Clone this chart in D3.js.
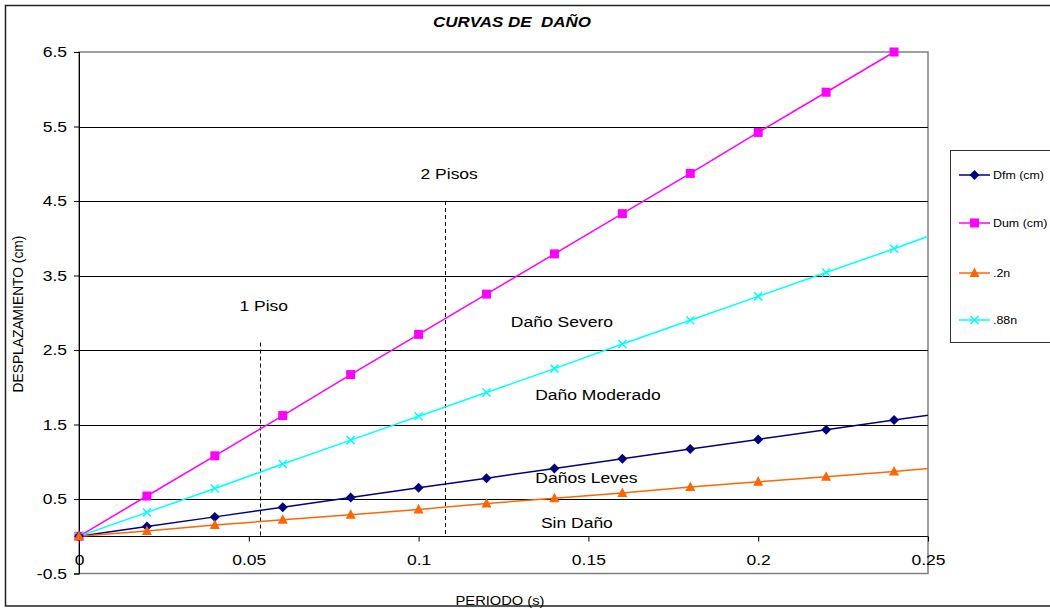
<!DOCTYPE html>
<html>
<head>
<meta charset="utf-8">
<script src="https://cdn.jsdelivr.net/npm/d3@7"></script>
<style>
  html, body { margin: 0; padding: 0; background: #fff; }
  svg { display: block; font-family: "Liberation Sans", Arial, sans-serif; }
</style>
</head>
<body>
<svg id="chart" width="1050" height="610"></svg>
<script>
// Periodo (s)
const periods = [0, 0.02, 0.04, 0.06, 0.08, 0.10, 0.12, 0.14, 0.16, 0.18, 0.20, 0.22, 0.24, 0.26];
// Desplazamientos (cm)
const dfm = [0, 0.13, 0.26, 0.39, 0.52, 0.65, 0.78, 0.91, 1.04, 1.17, 1.30, 1.43, 1.56, 1.69];
const dum = [0, 0.54, 1.08, 1.62, 2.17, 2.71, 3.25, 3.79, 4.33, 4.87, 5.42, 5.96, 6.50, 7.04];
const n20 = [0, 0.07, 0.15, 0.22, 0.29, 0.36, 0.44, 0.51, 0.58, 0.66, 0.73, 0.80, 0.87, 0.95];
const n88 = [0, 0.32, 0.64, 0.97, 1.29, 1.61, 1.93, 2.25, 2.58, 2.90, 3.22, 3.54, 3.86, 4.19];

const seriesNames = ["Dfm (cm)", "Dum (cm)", ".2n", ".88n"];
const seriesColors = ["#000080", "#FF00FF", "#FF6600", "#00FFFF"];
const seriesMarkers = ["diamond", "square", "triangle", "cross"];

const xTicks = [0, 0.05, 0.1, 0.15, 0.2, 0.25];
const xTickLabels = ["0", "0.05", "0.1", "0.15", "0.2", "0.25"];
const yTicks = [-0.5, 0.5, 1.5, 2.5, 3.5, 4.5, 5.5, 6.5];
const yTickLabels = ["-0.5", "0.5", "1.5", "2.5", "3.5", "4.5", "5.5", "6.5"];
const yGrid = [0.5, 1.5, 2.5, 3.5, 4.5, 5.5];

// Limites por numero de pisos: [periodo, desplazamiento superior]
const storyLimits = [[0.0533, 2.6], [0.1077, 4.5]];
// Rotulos de pisos: [texto, periodo, desplazamiento]
const storyLabels = [["1 Piso", 0.0544, 3.03], ["2 Pisos", 0.1090, 4.79]];

// Zonas de dano: [texto, periodo, desplazamiento]
const zoneLabels = [
  ["Daño Severo", 0.1422, 2.81],
  ["Daño Moderado", 0.1528, 1.83],
  ["Daños Leves", 0.1494, 0.72],
  ["Sin Daño", 0.1466, 0.11]
];

const svg = d3.select("#chart");
const W = 1050;
const SX = 1.13; // horizontal text stretch
const plot = { left: 79, right: 928, top: 52, bottom: 573.5 };

const x = d3.scaleLinear().domain([0, 0.25]).range([plot.left, plot.right]);
const y = d3.scaleLinear().domain([-0.5, 6.5]).range([plot.bottom, plot.top]);

function label(parent, tx, ty, str, size, anchor) {
  return parent.append("text")
    .attr("transform", `translate(${tx},${ty}) scale(${SX},1)`)
    .attr("text-anchor", anchor || "middle")
    .attr("font-size", size)
    .attr("xml:space", "preserve")
    .text(str);
}

// Outer chart frame
svg.append("rect")
  .attr("x", 5.5).attr("y", 5.5)
  .attr("width", W + 20).attr("height", 600.5)
  .attr("fill", "#fff").attr("stroke", "#222").attr("stroke-width", 1.5);

// Title
label(svg, 512, 26.5, "CURVAS DE  DAÑO", 15)
  .attr("font-weight", "bold").attr("font-style", "italic");

// Plot area border
svg.append("rect")
  .attr("x", plot.left).attr("y", plot.top)
  .attr("width", plot.right - plot.left).attr("height", plot.bottom - plot.top)
  .attr("fill", "none").attr("stroke", "#808080").attr("stroke-width", 1.5);

// Horizontal gridlines
svg.append("g").selectAll("line").data(yGrid).join("line")
  .attr("x1", plot.left).attr("x2", plot.right)
  .attr("y1", d => Math.round(y(d)) + 0.5).attr("y2", d => Math.round(y(d)) + 0.5)
  .attr("stroke", "#000").attr("stroke-width", 1);

// Y axis
const yAxis = d3.axisLeft(y)
  .tickValues(yTicks)
  .tickSize(5)
  .tickPadding(6)
  .tickFormat((d, i) => yTickLabels[i]);
const gy = svg.append("g").attr("transform", `translate(${plot.left},0)`).call(yAxis);
gy.select(".domain").attr("stroke", "#000");
gy.selectAll(".tick line").attr("stroke", "#000");
gy.selectAll("text")
  .attr("x", null)
  .attr("transform", `translate(-12,0) scale(${SX},1)`)
  .attr("font-size", 15.5).attr("fill", "#000")
  .attr("font-family", "Liberation Sans, Arial, sans-serif");

// X axis at zero displacement
const xAxis = d3.axisBottom(x)
  .tickValues(xTicks)
  .tickSize(5)
  .tickPadding(13)
  .tickFormat((d, i) => xTickLabels[i]);
const gx = svg.append("g").attr("transform", `translate(0,${Math.round(y(0)) + 0.5})`).call(xAxis);
gx.select(".domain").attr("stroke", "#000").attr("d", `M${plot.left},0H${plot.right}`);
gx.selectAll(".tick line").attr("stroke", "#000");
gx.selectAll("text")
  .attr("transform", `scale(${SX},1)`)
  .attr("font-size", 15.5).attr("fill", "#000")
  .attr("font-family", "Liberation Sans, Arial, sans-serif");

// Axis titles
svg.append("text")
  .attr("transform", `translate(23,314) rotate(-90)`)
  .attr("text-anchor", "middle")
  .attr("font-size", 13.8)
  .text("DESPLAZAMIENTO (cm)");
label(svg, 500, 605, "PERIODO (s)", 13);

// Story limit dashed lines and labels
svg.append("g").selectAll("line").data(storyLimits).join("line")
  .attr("x1", d => Math.round(x(d[0])) + 0.5).attr("x2", d => Math.round(x(d[0])) + 0.5)
  .attr("y1", d => y(d[1])).attr("y2", y(0))
  .attr("stroke", "#000").attr("stroke-width", 1)
  .attr("stroke-dasharray", "4,3");
storyLabels.forEach(d => label(svg, x(d[1]), y(d[2]), d[0], 15.5));

// Zone labels
zoneLabels.forEach(d => label(svg, x(d[1]), y(d[2]), d[0], 15.5));

// Clip for series lines
svg.append("defs").append("clipPath").attr("id", "lineClip")
  .append("rect")
  .attr("x", plot.left).attr("y", plot.top)
  .attr("width", plot.right - plot.left).attr("height", plot.bottom - plot.top);

const allSeries = [dfm, dum, n20, n88];
const line = d3.line().x(d => x(d[0])).y(d => y(d[1]));

function drawMarker(g, type, color, cx, cy) {
  if (type === "diamond") {
    g.append("path").attr("d", `M${cx},${cy - 5}L${cx + 5},${cy}L${cx},${cy + 5}L${cx - 5},${cy}Z`)
      .attr("fill", color);
  } else if (type === "square") {
    g.append("rect").attr("x", cx - 4.5).attr("y", cy - 4.5).attr("width", 9).attr("height", 9)
      .attr("fill", color);
  } else if (type === "triangle") {
    g.append("path").attr("d", `M${cx},${cy - 5.5}L${cx + 5},${cy + 4}L${cx - 5},${cy + 4}Z`)
      .attr("fill", color);
  } else {
    g.append("path").attr("d", `M${cx - 4},${cy - 4}L${cx + 4},${cy + 4}M${cx - 4},${cy + 4}L${cx + 4},${cy - 4}`)
      .attr("stroke", color).attr("stroke-width", 1.5).attr("fill", "none");
  }
}

// Series lines, clipped at the plot edges
const lineLayer = svg.append("g").attr("clip-path", "url(#lineClip)");
allSeries.forEach((vals, i) => {
  const pts = periods.map((t, j) => [t, vals[j]]);
  lineLayer.append("path")
    .datum(pts)
    .attr("d", line)
    .attr("fill", "none")
    .attr("stroke", seriesColors[i])
    .attr("stroke-width", 1.5);
});

// Markers for points inside the plot area
const markerLayer = svg.append("g");
[1, 3, 0, 2].forEach(i => {
  const vals = allSeries[i];
  periods.forEach((t, j) => {
    if (t < 0.25 && vals[j] <= 6.5 + 1e-9) {
      drawMarker(markerLayer, seriesMarkers[i], seriesColors[i], x(t), y(vals[j]));
    }
  });
});

// Legend
const lg = svg.append("g");
lg.append("rect")
  .attr("x", 950.5).attr("y", 150.5).attr("width", 110).attr("height", 192)
  .attr("fill", "#fff").attr("stroke", "#333").attr("stroke-width", 1);
const legendY = [175, 223, 273, 320];
seriesNames.forEach((name, i) => {
  const ly = legendY[i];
  lg.append("line")
    .attr("x1", 959).attr("x2", 990).attr("y1", ly).attr("y2", ly)
    .attr("stroke", seriesColors[i]).attr("stroke-width", 1.5);
  drawMarker(lg, seriesMarkers[i], seriesColors[i], 974.5, ly);
  label(lg, 993, ly + 4, name, 11, "start");
});
</script>
</body>
</html>
